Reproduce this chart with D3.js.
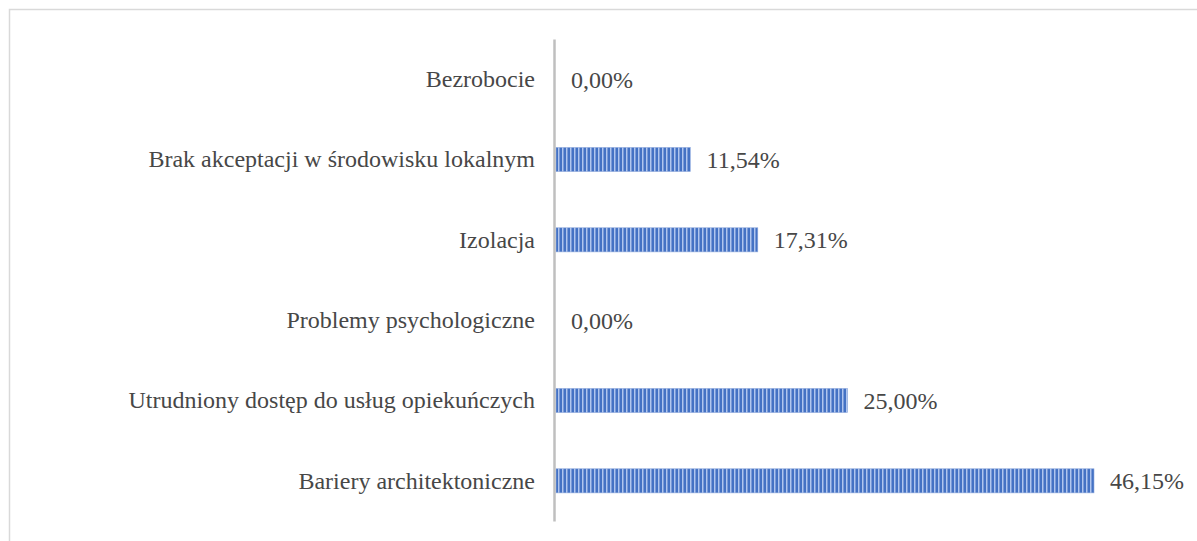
<!DOCTYPE html>
<html>
<head>
<meta charset="utf-8">
<script src="https://cdn.jsdelivr.net/npm/d3@7"></script>
<style>
  body { margin: 0; background: #fff; }
  svg { display: block; }
</style>
</head>
<body>
<div id="chart"></div>
<script>
const categories = [
  "Bezrobocie",
  "Brak akceptacji w środowisku lokalnym",
  "Izolacja",
  "Problemy psychologiczne",
  "Utrudniony dostęp do usług opiekuńczych",
  "Bariery architektoniczne"
]
const values = [0, 11.54, 17.31, 0, 25.00, 46.15]

const width = 1197
const height = 541
const margins = {top: 39, right: 103, bottom: 20, left: 556}
const fontSize = 24

const svg = d3.select("#chart")
  .append("svg")
  .attr("width", width)
  .attr("height", height)

// frame of the chart area (runs off the page right and bottom)
svg.append("rect")
  .attr("x", 9.5).attr("y", 9.5)
  .attr("width", width + 20).attr("height", height + 20)
  .attr("fill", "none")
  .attr("stroke", "#d9d9d9")
  .attr("stroke-width", 1.5)

// striped fill
const defs = svg.append("defs")
const pat = defs.append("pattern")
  .attr("id", "stripes")
  .attr("patternUnits", "userSpaceOnUse")
  .attr("width", 4).attr("height", 10)
pat.append("rect").attr("width", 4).attr("height", 10).attr("fill", "#4472c4")
pat.append("rect").attr("x", 2).attr("width", 1).attr("height", 10).attr("fill", "#b0c6ee")
pat.append("rect").attr("x", 3).attr("width", 1).attr("height", 10).attr("fill", "#7a9ad8")

const yScale = d3.scaleBand()
  .domain(categories)
  .range([margins.top, height - margins.bottom])
  .paddingInner(0.7)
  .paddingOuter(0.35)

const xScale = d3.scaleLinear()
  .domain([0, 46.15])
  .range([margins.left, width - margins.right])

svg.selectAll("rect.bar")
  .data(values)
  .enter()
  .append("rect")
  .attr("class", "bar")
  .attr("x", xScale(0))
  .attr("y", (d, i) => yScale(categories[i]))
  .attr("width", d => xScale(d) - xScale(0))
  .attr("height", yScale.bandwidth())
  .attr("fill", "url(#stripes)")
  .attr("stroke", d => d > 0 ? "#8fa9dc" : "none")
  .attr("stroke-width", 0.6)

// value labels
svg.selectAll("text.val")
  .data(values)
  .enter()
  .append("text")
  .attr("class", "val")
  .attr("x", d => xScale(d) + (d > 0 ? 16 : 15))
  .attr("y", (d, i) => yScale(categories[i]) + yScale.bandwidth() / 2)
  .attr("dy", "0.35em")
  .attr("font-family", "'Liberation Serif', 'Times New Roman', serif")
  .attr("font-size", fontSize)
  .attr("fill", "#474747")
  .text(d => d.toFixed(2).replace(".", ",") + "%")

// category axis
const yAxis = d3.axisLeft(yScale).tickSize(0).tickPadding(19)
const gAxis = svg.append("g")
  .attr("transform", `translate(${xScale(0) - 2},0)`)
  .call(yAxis)
gAxis.select(".domain")
  .attr("stroke", "#bfbfbf")
  .attr("stroke-width", 2.5)
gAxis.selectAll("text")
  .attr("font-family", "'Liberation Serif', 'Times New Roman', serif")
  .attr("font-size", fontSize)
  .attr("fill", "#474747")
</script>
</body>
</html>
